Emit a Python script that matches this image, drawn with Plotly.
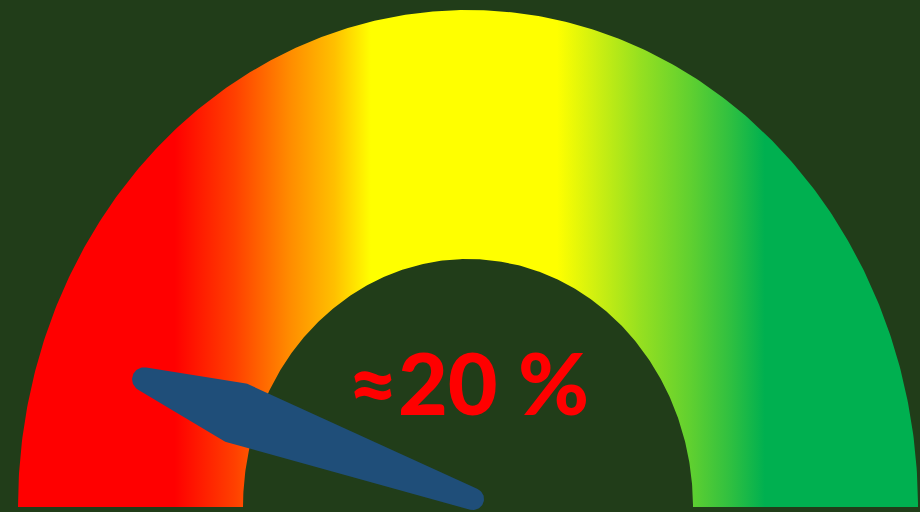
import math
import plotly.graph_objects as go

# Gauge reading and label
VALUE = 20                     # percent shown on the dial
LABEL = "≈20 %"
DEG_PER_UNIT = 1.0             # needle rotation (degrees from the left end) per value unit

# Colour band across the dial, left to right (fraction of dial width, colour)
BAND_POS = [0.0, 0.174, 0.241, 0.302, 0.352, 0.392, 0.599, 0.641, 0.691, 0.747, 0.791, 0.830, 1.0]
BAND_COL = ["#FF0000", "#FF0000", "#FF4000", "#FF8C00", "#FFC000", "#FFFF00", "#FFFF00",
            "#D0F010", "#96E020", "#60D030", "#30C040", "#00B050", "#00B050"]

# Layout geometry (plot units = screen pixels, y upward)
W, H = 920, 512
CX, CY = 468, 5
RX_OUT, RY_OUT = 450, 497
RX_IN, RY_IN = 225, 248
BG = "#213D19"
NEEDLE_COL = "#1F4E79"


def ring_path(n=360):
    xs, ys = [], []
    for i in range(n + 1):
        a = math.pi - math.pi * i / n
        xs.append(CX + RX_OUT * math.cos(a))
        ys.append(CY + RY_OUT * math.sin(a))
    for i in range(n + 1):
        a = math.pi * i / n
        xs.append(CX + RX_IN * math.cos(a))
        ys.append(CY + RY_IN * math.sin(a))
    xs.append(xs[0])
    ys.append(ys[0])
    return xs, ys


def convex_hull(pts):
    pts = sorted(set(pts))
    def cross(o, a, b):
        return (a[0] - o[0]) * (b[1] - o[1]) - (a[1] - o[1]) * (b[0] - o[0])
    lower, upper = [], []
    for p in pts:
        while len(lower) >= 2 and cross(lower[-2], lower[-1], p) <= 0:
            lower.pop()
        lower.append(p)
    for p in reversed(pts):
        while len(upper) >= 2 and cross(upper[-2], upper[-1], p) <= 0:
            upper.pop()
        upper.append(p)
    return lower[:-1] + upper[:-1]


def needle_outline(value):
    theta = math.radians(value * DEG_PER_UNIT)
    ux, uy = -math.cos(theta), math.sin(theta)     # along the needle
    nx, ny = -uy, ux                                # across the needle
    px, py = CX + 5, CY + 8                         # pivot
    # (distance along needle, offset across, corner radius)
    circles = [(0, 0, 11), (252, 26, 5), (252, -26, 5), (350, 0, 12)]
    pts = []
    for s, t, r in circles:
        ox = px + ux * s + nx * t
        oy = py + uy * s + ny * t
        for k in range(72):
            a = 2 * math.pi * k / 72
            pts.append((round(ox + r * math.cos(a), 3), round(oy + r * math.sin(a), 3)))
    hull = convex_hull(pts)
    hull.append(hull[0])
    return [p[0] for p in hull], [p[1] for p in hull]


fig = go.Figure()

rx, ry = ring_path()
fig.add_trace(go.Scatter(
    x=rx, y=ry, mode="lines", fill="toself", line=dict(width=0),
    fillgradient=dict(type="horizontal", start=CX - RX_OUT, stop=CX + RX_OUT,
                      colorscale=[[p, c] for p, c in zip(BAND_POS, BAND_COL)]),
    hoverinfo="skip", showlegend=False,
))

nxs, nys = needle_outline(VALUE)
fig.add_trace(go.Scatter(
    x=nxs, y=nys, mode="lines", fill="toself", fillcolor=NEEDLE_COL,
    line=dict(width=0, color=NEEDLE_COL), hoverinfo="skip", showlegend=False,
))

fig.add_annotation(
    x=CX, y=CY + 126, text=LABEL, showarrow=False,
    font=dict(family="Lato", size=86, color="#FF0000", weight=900),
    xanchor="center", yanchor="middle",
)

fig.update_layout(
    width=W, height=H, margin=dict(l=0, r=0, t=0, b=0),
    paper_bgcolor=BG, plot_bgcolor=BG,
    xaxis=dict(range=[0, W], visible=False, fixedrange=True),
    yaxis=dict(range=[0, H], visible=False, fixedrange=True),
)

fig.write_html("out.html")
